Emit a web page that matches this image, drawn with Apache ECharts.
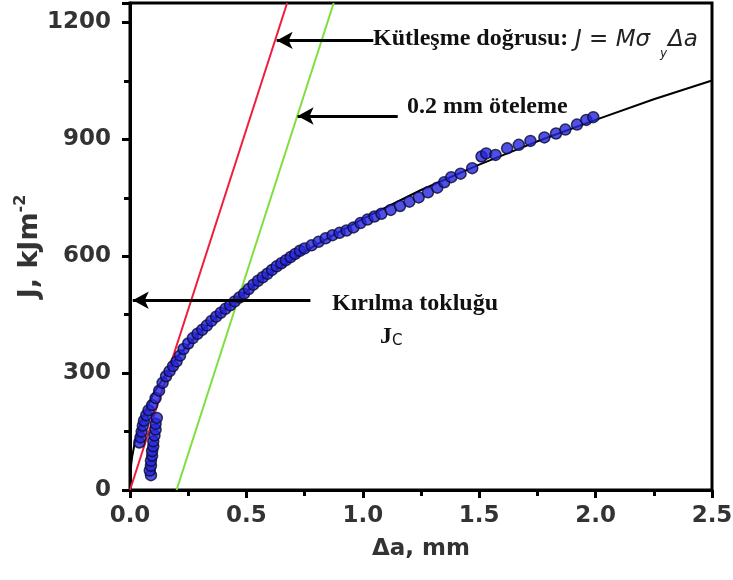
<!DOCTYPE html>
<html>
<head>
<meta charset="utf-8">
<script src="https://cdn.jsdelivr.net/npm/echarts@6/dist/echarts.min.js"></script>
<style>
    * { margin: 0; padding: 0; }
    body { background: #ffffff; }
    #main { width: 733px; height: 580px; }
</style>
</head>
<body>
<div id="main"></div>
<script>
    // olcum noktalari: [delta a (mm), J (kJ/m2)]
    var olcum = [
        [0.09, 38], [0.085, 50], [0.09, 62], [0.09, 75], [0.095, 88], [0.095, 100],
        [0.1, 112], [0.1, 125], [0.105, 140], [0.11, 155], [0.11, 170], [0.115, 185],
        [0.04, 122], [0.045, 135], [0.05, 150], [0.055, 165], [0.06, 178], [0.07, 192],
        [0.08, 205], [0.095, 218], [0.11, 236], [0.125, 255], [0.14, 275], [0.155, 292],
        [0.17, 305], [0.185, 318], [0.2, 330], [0.215, 345], [0.23, 362], [0.25, 376],
        [0.27, 390], [0.29, 401], [0.31, 411], [0.33, 422], [0.35, 434], [0.37, 445],
        [0.39, 455], [0.41, 465], [0.43, 474], [0.45, 484], [0.47, 494], [0.49, 504],
        [0.51, 516], [0.53, 527], [0.55, 537], [0.57, 546], [0.59, 555], [0.61, 565],
        [0.63, 574], [0.65, 582], [0.67, 590], [0.69, 598], [0.71, 606], [0.73, 614],
        [0.75, 620], [0.78, 628], [0.81, 637], [0.84, 646], [0.87, 654], [0.9, 660],
        [0.93, 666], [0.96, 674], [0.99, 685], [1.02, 694], [1.05, 702], [1.08, 709],
        [1.12, 719], [1.16, 729], [1.2, 740], [1.24, 751], [1.28, 764], [1.32, 776],
        [1.35, 790], [1.38, 803], [1.42, 812], [1.47, 826], [1.51, 856], [1.53, 864],
        [1.57, 860], [1.62, 877], [1.67, 886], [1.72, 896], [1.78, 905], [1.83, 915],
        [1.87, 925], [1.92, 938], [1.96, 950], [1.99, 957]
    ];

    // uydurulmus egri (siyah)
    var egri = [
        [0.0, 0], [0.005, 65], [0.01, 88], [0.02, 120], [0.05, 180], [0.1, 247],
        [0.2, 340], [0.3, 405], [0.45, 487], [0.6, 555], [0.8, 630], [1.0, 696],
        [1.25, 770], [1.5, 835], [1.75, 895], [2.0, 950], [2.25, 1003], [2.5, 1051]
    ];

    // kutlesme dogrusu ve 0.2 mm oteleme
    var kutlesme = [[0, 0], [0.675, 1250]];
    var oteleme = [[0.2, 0], [0.875, 1250]];

    // ok isaretleri (baslangic -> uc)
    var okKutlesme = [[1.045, 1154], [0.63, 1154]];
    var okOteleme = [[1.15, 960], [0.72, 960]];
    var okJc = [[0.775, 487], [0.012, 487]];

    var xTicks = [0, 2.5, 0.5];
    var yTicks = [0, 1250, 300];

    var myChart = echarts.init(document.getElementById('main'));

    var sans = 'DejaVu Sans';
    var tickStyle = { color: '#000', width: 3 };

    var option = {
        backgroundColor: '#ffffff',
        animation: false,
        grid: {
            left: 130,
            right: 21,
            top: 3,
            bottom: 90,
            outerBoundsMode: 'none',
            containLabel: false,
            show: true,
            borderColor: '#000',
            borderWidth: 3
        },
        xAxis: {
            type: 'value',
            min: xTicks[0],
            max: xTicks[1],
            interval: xTicks[2],
            name: 'Δa, mm',
            nameLocation: 'middle',
            nameGap: 48,
            nameTextStyle: { fontFamily: sans, fontSize: 23, fontWeight: 'bold', color: '#333' },
            axisLine: { show: true, lineStyle: { color: '#000', width: 3 } },
            axisTick: { show: true, length: 8, lineStyle: tickStyle },
            minorTick: { show: true, splitNumber: 2, length: 6, lineStyle: tickStyle },
            splitLine: { show: false },
            axisLabel: {
                margin: 15,
                fontFamily: sans,
                fontSize: 23,
                fontWeight: 'bold',
                color: '#333',
                formatter: function (v) { return v.toFixed(1); }
            }
        },
        yAxis: {
            type: 'value',
            min: yTicks[0],
            max: yTicks[1],
            interval: yTicks[2],
            name: 'J, kJm{sup|-2}',
            nameLocation: 'middle',
            nameGap: 84,
            nameMoveOverlap: false,
            nameTextStyle: {
                fontFamily: sans, fontSize: 27, fontWeight: 'bold', color: '#333',
                rich: {
                    sup: { fontFamily: sans, fontSize: 16, fontWeight: 'bold', color: '#333', padding: [0, 0, 17, 0] }
                }
            },
            axisLine: { show: true, lineStyle: { color: '#000', width: 3 } },
            axisTick: { show: true, length: 8, lineStyle: tickStyle },
            minorTick: { show: true, splitNumber: 2, length: 6, lineStyle: tickStyle },
            splitLine: { show: false },
            axisLabel: {
                margin: 19,
                fontFamily: sans,
                fontSize: 23,
                fontWeight: 'bold',
                color: '#333',
                showMaxLabel: false,
                formatter: function (v) { return String(v); }
            }
        },
        series: [
            {
                type: 'line',
                data: kutlesme,
                showSymbol: false,
                silent: true,
                lineStyle: { color: '#f01c3c', width: 2 },
                z: 3
            },
            {
                type: 'line',
                data: oteleme,
                showSymbol: false,
                silent: true,
                lineStyle: { color: '#7ee03c', width: 2 },
                z: 3
            },
            {
                type: 'line',
                data: egri,
                showSymbol: false,
                silent: true,
                lineStyle: { color: '#000', width: 2 },
                z: 2,
                markLine: {
                    silent: true,
                    symbol: ['none', 'arrow'],
                    symbolSize: [13, 16],
                    label: { show: false },
                    lineStyle: { color: '#000', width: 3, type: 'solid' },
                    data: [
                        [{ coord: okKutlesme[0] }, { coord: okKutlesme[1] }],
                        [{ coord: okOteleme[0] }, { coord: okOteleme[1] }],
                        [{ coord: okJc[0] }, { coord: okJc[1] }]
                    ]
                }
            },
            {
                type: 'scatter',
                data: olcum,
                symbol: 'circle',
                symbolSize: 11,
                silent: true,
                itemStyle: { color: '#2424dc', borderColor: '#0a0a30', borderWidth: 1.5 },
                z: 4
            }
        ],
        graphic: [
            {
                type: 'text', left: 373, top: 27,
                style: { text: 'Kütleşme doğrusu:', font: 'bold 24px "Liberation Serif"', fill: '#111' }
            },
            {
                type: 'text', left: 575, top: 29,
                style: { text: 'J = Mσ', font: 'oblique 23px "DejaVu Sans"', fill: '#222' }
            },
            {
                type: 'text', left: 660, top: 48,
                style: { text: 'y', font: 'oblique 12px "DejaVu Sans"', fill: '#222' }
            },
            {
                type: 'text', left: 668, top: 29,
                style: { text: 'Δa', font: 'oblique 23px "DejaVu Sans"', fill: '#222' }
            },
            {
                type: 'text', left: 407, top: 95,
                style: { text: '0.2 mm öteleme', font: 'bold 24px "Liberation Serif"', fill: '#111' }
            },
            {
                type: 'text', left: 332, top: 292,
                style: { text: 'Kırılma tokluğu', font: 'bold 24px "Liberation Serif"', fill: '#111' }
            },
            {
                type: 'text', left: 380, top: 325,
                style: { text: 'J', font: 'bold 24px "Liberation Serif"', fill: '#111' }
            },
            {
                type: 'text', left: 392, top: 334,
                style: { text: 'C', font: '15px "DejaVu Sans"', fill: '#111' }
            }
        ]
    };

    myChart.setOption(option);
</script>
</body>
</html>
